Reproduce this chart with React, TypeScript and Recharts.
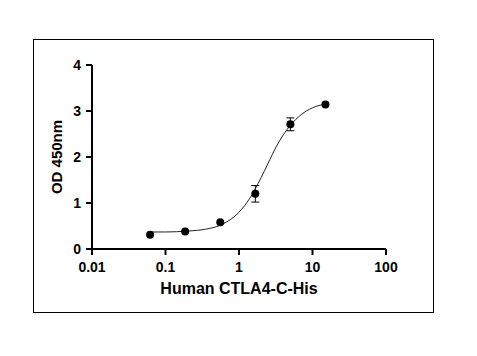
import { ScatterChart, Scatter, XAxis, YAxis, ErrorBar } from "recharts";

// 3-fold dilution series (ug/ml)
const CONC = [0.0617, 0.185, 0.556, 1.667, 5, 15];
const OD = [0.31, 0.38, 0.58, 1.2, 2.71, 3.14];
const OD_ERR = [0, 0, 0, 0.18, 0.14, 0];

// fitted curve
const FIT_X = [0.0617, 0.1, 0.2, 0.35, 0.6, 1, 1.4, 2, 2.5, 3.2, 4, 5, 7, 10, 15];
const FIT_Y = [0.37, 0.37, 0.39, 0.43, 0.54, 0.8, 1.1, 1.55, 1.87, 2.22, 2.48, 2.69, 2.92, 3.07, 3.15];

const X_TICKS = [0.01, 0.1, 1, 10, 100];
const Y_TICKS = [0, 1, 2, 3, 4];

const FONT = '"Liberation Sans", Arial, sans-serif';

const points = CONC.map((x, i) => ({ x, y: OD[i], err: OD_ERR[i] }));
const fit = FIT_X.map((x, i) => ({ x, y: FIT_Y[i] }));

const tickStyle = { fill: "#000", fontSize: 14, fontWeight: "bold", fontFamily: FONT };

export default function App() {
  return (
    <div
      style={{
        position: "absolute",
        left: 0,
        top: 0,
        width: 477,
        height: 356,
        background: "#fff",
      }}
    >
      <div
        style={{
          position: "absolute",
          left: 33,
          top: 39,
          width: 401,
          height: 274,
          boxSizing: "border-box",
          border: "1px solid #000",
        }}
      />
      <div style={{ position: "absolute", left: 0, top: 0 }}>
        <ScatterChart
          width={477}
          height={356}
          margin={{ top: 65, right: 91, bottom: 77, left: 32 }}
        >
          <XAxis
            type="number"
            dataKey="x"
            scale="log"
            domain={[0.01, 100]}
            ticks={X_TICKS}
            allowDataOverflow
            height={30}
            tickSize={6}
            tickMargin={7}
            tickFormatter={(v) => String(v)}
            axisLine={{ stroke: "#000", strokeWidth: 2 }}
            tickLine={{ stroke: "#000", strokeWidth: 2 }}
            tick={tickStyle}
            label={{
              value: "Human CTLA4-C-His",
              position: "bottom",
              offset: 4,
              fill: "#000",
              fontSize: 16,
              fontWeight: "bold",
              fontFamily: FONT,
            }}
          />
          <YAxis
            type="number"
            dataKey="y"
            domain={[0, 4]}
            ticks={Y_TICKS}
            width={60}
            tickSize={6}
            tickMargin={5}
            axisLine={{ stroke: "#000", strokeWidth: 2 }}
            tickLine={{ stroke: "#000", strokeWidth: 2 }}
            tick={tickStyle}
            label={{
              value: "OD 450nm",
              angle: -90,
              position: "insideLeft",
              offset: 25,
              fill: "#000",
              fontSize: 15,
              fontWeight: "bold",
              fontFamily: FONT,
              style: { textAnchor: "middle" },
            }}
          />
          <Scatter
            data={fit}
            line={{ stroke: "#222", strokeWidth: 1 }}
            lineType="joint"
            lineJointType="monotoneX"
            shape={() => <g />}
            isAnimationActive={false}
          />
          <Scatter
            data={points}
            fill="#000"
            shape={(p: any) => <circle cx={p.cx} cy={p.cy} r={4} fill="#000" />}
            isAnimationActive={false}
          >
            <ErrorBar dataKey="err" direction="y" width={4} stroke="#000" strokeWidth={1} />
          </Scatter>
        </ScatterChart>
      </div>
    </div>
  );
}
